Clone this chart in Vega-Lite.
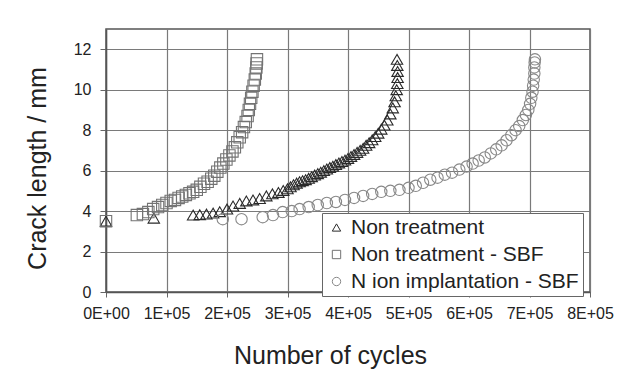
{
  "$schema": "https://vega.github.io/schema/vega-lite/v6.json",
  "width": 484,
  "height": 263,
  "autosize": {"type": "none"},
  "padding": {"left": 106, "top": 29, "right": 29, "bottom": 87},
  "background": "white",
  "config": {
    "font": "Liberation Sans",
    "view": {"stroke": "#555", "strokeWidth": 1.5},
    "axis": {
      "grid": true,
      "gridColor": "#7a7a7a",
      "gridWidth": 1.2,
      "domainColor": "#555",
      "domainWidth": 1.5,
      "tickColor": "#666",
      "tickSize": 6,
      "labelFont": "Liberation Sans",
      "labelFontSize": 16,
      "labelColor": "#222",
      "labelOverlap": false,
      "labelFlush": false,
      "titleFont": "Liberation Sans",
      "titleFontSize": 25,
      "titleFontWeight": "normal",
      "titleColor": "#222"
    },
    "legend": {
      "labelFont": "Liberation Sans"
    }
  },
  "data": {
    "values": [
      {"series": "Non treatment", "cycles": 0, "crack": 3.5},
      {"series": "Non treatment", "cycles": 79000, "crack": 3.65},
      {"series": "Non treatment", "cycles": 144000, "crack": 3.8},
      {"series": "Non treatment", "cycles": 155000, "crack": 3.82},
      {"series": "Non treatment", "cycles": 166000, "crack": 3.85},
      {"series": "Non treatment", "cycles": 177000, "crack": 3.9},
      {"series": "Non treatment", "cycles": 188000, "crack": 3.97},
      {"series": "Non treatment", "cycles": 200000, "crack": 4.1},
      {"series": "Non treatment", "cycles": 210000, "crack": 4.25},
      {"series": "Non treatment", "cycles": 221000, "crack": 4.38},
      {"series": "Non treatment", "cycles": 232000, "crack": 4.5},
      {"series": "Non treatment", "cycles": 243000, "crack": 4.55},
      {"series": "Non treatment", "cycles": 254000, "crack": 4.62},
      {"series": "Non treatment", "cycles": 265000, "crack": 4.75},
      {"series": "Non treatment", "cycles": 275000, "crack": 4.85},
      {"series": "Non treatment", "cycles": 285000, "crack": 4.92},
      {"series": "Non treatment", "cycles": 293000, "crack": 5.02},
      {"series": "Non treatment", "cycles": 300000, "crack": 5.1},
      {"series": "Non treatment", "cycles": 305000, "crack": 5.2},
      {"series": "Non treatment", "cycles": 310000, "crack": 5.3},
      {"series": "Non treatment", "cycles": 315000, "crack": 5.38},
      {"series": "Non treatment", "cycles": 320000, "crack": 5.45},
      {"series": "Non treatment", "cycles": 325000, "crack": 5.5},
      {"series": "Non treatment", "cycles": 330000, "crack": 5.55},
      {"series": "Non treatment", "cycles": 335000, "crack": 5.62},
      {"series": "Non treatment", "cycles": 340000, "crack": 5.7},
      {"series": "Non treatment", "cycles": 345000, "crack": 5.78},
      {"series": "Non treatment", "cycles": 350000, "crack": 5.85},
      {"series": "Non treatment", "cycles": 355000, "crack": 5.92},
      {"series": "Non treatment", "cycles": 360000, "crack": 6.0},
      {"series": "Non treatment", "cycles": 365000, "crack": 6.08},
      {"series": "Non treatment", "cycles": 370000, "crack": 6.15},
      {"series": "Non treatment", "cycles": 375000, "crack": 6.22},
      {"series": "Non treatment", "cycles": 380000, "crack": 6.3},
      {"series": "Non treatment", "cycles": 385000, "crack": 6.38},
      {"series": "Non treatment", "cycles": 390000, "crack": 6.45},
      {"series": "Non treatment", "cycles": 395000, "crack": 6.52},
      {"series": "Non treatment", "cycles": 400000, "crack": 6.6},
      {"series": "Non treatment", "cycles": 405000, "crack": 6.7},
      {"series": "Non treatment", "cycles": 410000, "crack": 6.8},
      {"series": "Non treatment", "cycles": 415000, "crack": 6.9},
      {"series": "Non treatment", "cycles": 420000, "crack": 7.0},
      {"series": "Non treatment", "cycles": 425000, "crack": 7.1},
      {"series": "Non treatment", "cycles": 430000, "crack": 7.25},
      {"series": "Non treatment", "cycles": 435000, "crack": 7.38},
      {"series": "Non treatment", "cycles": 440000, "crack": 7.52},
      {"series": "Non treatment", "cycles": 445000, "crack": 7.68},
      {"series": "Non treatment", "cycles": 450000, "crack": 7.85},
      {"series": "Non treatment", "cycles": 455000, "crack": 8.05},
      {"series": "Non treatment", "cycles": 460000, "crack": 8.25},
      {"series": "Non treatment", "cycles": 465000, "crack": 8.5},
      {"series": "Non treatment", "cycles": 470000, "crack": 8.8},
      {"series": "Non treatment", "cycles": 474000, "crack": 9.1},
      {"series": "Non treatment", "cycles": 477000, "crack": 9.4},
      {"series": "Non treatment", "cycles": 479000, "crack": 9.7},
      {"series": "Non treatment", "cycles": 480500, "crack": 10.0},
      {"series": "Non treatment", "cycles": 481500, "crack": 10.3},
      {"series": "Non treatment", "cycles": 482000, "crack": 10.6},
      {"series": "Non treatment", "cycles": 482000, "crack": 10.9},
      {"series": "Non treatment", "cycles": 481500, "crack": 11.2},
      {"series": "Non treatment", "cycles": 481000, "crack": 11.5},
      {"series": "Non treatment - SBF", "cycles": 0, "crack": 3.5},
      {"series": "Non treatment - SBF", "cycles": 51000, "crack": 3.8},
      {"series": "Non treatment - SBF", "cycles": 61000, "crack": 3.85},
      {"series": "Non treatment - SBF", "cycles": 70000, "crack": 3.95},
      {"series": "Non treatment - SBF", "cycles": 78000, "crack": 4.1},
      {"series": "Non treatment - SBF", "cycles": 86000, "crack": 4.2},
      {"series": "Non treatment - SBF", "cycles": 93000, "crack": 4.3},
      {"series": "Non treatment - SBF", "cycles": 100000, "crack": 4.4},
      {"series": "Non treatment - SBF", "cycles": 107000, "crack": 4.5},
      {"series": "Non treatment - SBF", "cycles": 114000, "crack": 4.55},
      {"series": "Non treatment - SBF", "cycles": 120000, "crack": 4.65},
      {"series": "Non treatment - SBF", "cycles": 126000, "crack": 4.72},
      {"series": "Non treatment - SBF", "cycles": 132000, "crack": 4.8},
      {"series": "Non treatment - SBF", "cycles": 138000, "crack": 4.88},
      {"series": "Non treatment - SBF", "cycles": 144000, "crack": 4.95},
      {"series": "Non treatment - SBF", "cycles": 150000, "crack": 5.05},
      {"series": "Non treatment - SBF", "cycles": 156000, "crack": 5.2},
      {"series": "Non treatment - SBF", "cycles": 162000, "crack": 5.35},
      {"series": "Non treatment - SBF", "cycles": 168000, "crack": 5.45},
      {"series": "Non treatment - SBF", "cycles": 174000, "crack": 5.6},
      {"series": "Non treatment - SBF", "cycles": 179000, "crack": 5.75},
      {"series": "Non treatment - SBF", "cycles": 184000, "crack": 5.95},
      {"series": "Non treatment - SBF", "cycles": 189000, "crack": 6.15},
      {"series": "Non treatment - SBF", "cycles": 194000, "crack": 6.35},
      {"series": "Non treatment - SBF", "cycles": 199000, "crack": 6.55},
      {"series": "Non treatment - SBF", "cycles": 204000, "crack": 6.75},
      {"series": "Non treatment - SBF", "cycles": 209000, "crack": 6.95},
      {"series": "Non treatment - SBF", "cycles": 213000, "crack": 7.15},
      {"series": "Non treatment - SBF", "cycles": 217000, "crack": 7.4},
      {"series": "Non treatment - SBF", "cycles": 221000, "crack": 7.65},
      {"series": "Non treatment - SBF", "cycles": 225000, "crack": 7.9},
      {"series": "Non treatment - SBF", "cycles": 228000, "crack": 8.15},
      {"series": "Non treatment - SBF", "cycles": 231000, "crack": 8.4},
      {"series": "Non treatment - SBF", "cycles": 234000, "crack": 8.7},
      {"series": "Non treatment - SBF", "cycles": 236000, "crack": 9.0},
      {"series": "Non treatment - SBF", "cycles": 238000, "crack": 9.3},
      {"series": "Non treatment - SBF", "cycles": 240000, "crack": 9.6},
      {"series": "Non treatment - SBF", "cycles": 242000, "crack": 9.9},
      {"series": "Non treatment - SBF", "cycles": 244000, "crack": 10.2},
      {"series": "Non treatment - SBF", "cycles": 246000, "crack": 10.5},
      {"series": "Non treatment - SBF", "cycles": 247500, "crack": 10.8},
      {"series": "Non treatment - SBF", "cycles": 248500, "crack": 11.1},
      {"series": "Non treatment - SBF", "cycles": 249000, "crack": 11.3},
      {"series": "Non treatment - SBF", "cycles": 249500, "crack": 11.5},
      {"series": "N ion implantation - SBF", "cycles": 193000, "crack": 3.6},
      {"series": "N ion implantation - SBF", "cycles": 224000, "crack": 3.6},
      {"series": "N ion implantation - SBF", "cycles": 259000, "crack": 3.7},
      {"series": "N ion implantation - SBF", "cycles": 276000, "crack": 3.8},
      {"series": "N ion implantation - SBF", "cycles": 292000, "crack": 3.95},
      {"series": "N ion implantation - SBF", "cycles": 307000, "crack": 4.0},
      {"series": "N ion implantation - SBF", "cycles": 320000, "crack": 4.1},
      {"series": "N ion implantation - SBF", "cycles": 335000, "crack": 4.2},
      {"series": "N ion implantation - SBF", "cycles": 350000, "crack": 4.3},
      {"series": "N ion implantation - SBF", "cycles": 365000, "crack": 4.4},
      {"series": "N ion implantation - SBF", "cycles": 380000, "crack": 4.45},
      {"series": "N ion implantation - SBF", "cycles": 395000, "crack": 4.55},
      {"series": "N ion implantation - SBF", "cycles": 410000, "crack": 4.65},
      {"series": "N ion implantation - SBF", "cycles": 425000, "crack": 4.75},
      {"series": "N ion implantation - SBF", "cycles": 440000, "crack": 4.85},
      {"series": "N ion implantation - SBF", "cycles": 455000, "crack": 4.95},
      {"series": "N ion implantation - SBF", "cycles": 470000, "crack": 5.0},
      {"series": "N ion implantation - SBF", "cycles": 485000, "crack": 5.05},
      {"series": "N ion implantation - SBF", "cycles": 500000, "crack": 5.15},
      {"series": "N ion implantation - SBF", "cycles": 512000, "crack": 5.25},
      {"series": "N ion implantation - SBF", "cycles": 524000, "crack": 5.4},
      {"series": "N ion implantation - SBF", "cycles": 536000, "crack": 5.55},
      {"series": "N ion implantation - SBF", "cycles": 548000, "crack": 5.65},
      {"series": "N ion implantation - SBF", "cycles": 560000, "crack": 5.8},
      {"series": "N ion implantation - SBF", "cycles": 572000, "crack": 5.9},
      {"series": "N ion implantation - SBF", "cycles": 584000, "crack": 6.05},
      {"series": "N ion implantation - SBF", "cycles": 596000, "crack": 6.2},
      {"series": "N ion implantation - SBF", "cycles": 606000, "crack": 6.35},
      {"series": "N ion implantation - SBF", "cycles": 616000, "crack": 6.5},
      {"series": "N ion implantation - SBF", "cycles": 626000, "crack": 6.65},
      {"series": "N ion implantation - SBF", "cycles": 636000, "crack": 6.85},
      {"series": "N ion implantation - SBF", "cycles": 645000, "crack": 7.05},
      {"series": "N ion implantation - SBF", "cycles": 654000, "crack": 7.25},
      {"series": "N ion implantation - SBF", "cycles": 662000, "crack": 7.5},
      {"series": "N ion implantation - SBF", "cycles": 670000, "crack": 7.75},
      {"series": "N ion implantation - SBF", "cycles": 677000, "crack": 8.0},
      {"series": "N ion implantation - SBF", "cycles": 683000, "crack": 8.2},
      {"series": "N ion implantation - SBF", "cycles": 689000, "crack": 8.5},
      {"series": "N ion implantation - SBF", "cycles": 694000, "crack": 8.75},
      {"series": "N ion implantation - SBF", "cycles": 698000, "crack": 9.0},
      {"series": "N ion implantation - SBF", "cycles": 701000, "crack": 9.3},
      {"series": "N ion implantation - SBF", "cycles": 703000, "crack": 9.6},
      {"series": "N ion implantation - SBF", "cycles": 705000, "crack": 9.9},
      {"series": "N ion implantation - SBF", "cycles": 706000, "crack": 10.2},
      {"series": "N ion implantation - SBF", "cycles": 707000, "crack": 10.5},
      {"series": "N ion implantation - SBF", "cycles": 708000, "crack": 10.8},
      {"series": "N ion implantation - SBF", "cycles": 708000, "crack": 11.1},
      {"series": "N ion implantation - SBF", "cycles": 708500, "crack": 11.35},
      {"series": "N ion implantation - SBF", "cycles": 709000, "crack": 11.5}
    ]
  },
  "mark": {"type": "point", "filled": false, "size": 130, "strokeWidth": 1.1, "opacity": 1},
  "encoding": {
    "x": {
      "field": "cycles",
      "type": "quantitative",
      "scale": {"domain": [0, 800000], "nice": false},
      "axis": {
        "values": [0, 100000, 200000, 300000, 400000, 500000, 600000, 700000, 800000],
        "labelExpr": "datum.value == 0 ? '0E+00' : (datum.value / 100000) + 'E+05'",
        "labelPadding": 8,
        "labelFlush": false,
        "tickSize": 5,
        "title": "Number of cycles",
        "titleX": 224,
        "titleY": 71,
        "titleBaseline": "alphabetic",
        "titleAlign": "center"
      }
    },
    "y": {
      "field": "crack",
      "type": "quantitative",
      "scale": {"domain": [0, 13], "nice": false},
      "axis": {
        "values": [0, 2, 4, 6, 8, 10, 12],
        "labelPadding": 9,
        "tickSize": 6,
        "title": "Crack length / mm",
        "titleX": -61,
        "titleY": 139,
        "titleAngle": -90,
        "titleBaseline": "alphabetic",
        "titleAlign": "center"
      }
    },
    "shape": {
      "field": "series",
      "type": "nominal",
      "sort": ["Non treatment", "Non treatment - SBF", "N ion implantation - SBF"],
      "scale": {
        "domain": ["Non treatment", "Non treatment - SBF", "N ion implantation - SBF"],
        "range": ["triangle-up", "square", "circle"]
      }
    },
    "color": {
      "field": "series",
      "type": "nominal",
      "sort": ["Non treatment", "Non treatment - SBF", "N ion implantation - SBF"],
      "scale": {
        "domain": ["Non treatment", "Non treatment - SBF", "N ion implantation - SBF"],
        "range": ["#2a2a2a", "#737373", "#888888"]
      },
      "legend": {
        "title": null,
        "orient": "none",
        "legendX": 216,
        "legendY": 184,
        "labelFont": "Liberation Sans",
        "labelFontSize": 21,
        "labelColor": "#222",
        "labelLimit": 400,
        "labelOffset": 4,
        "symbolSize": 70,
        "symbolStrokeWidth": 1,
        "rowPadding": 5,
        "padding": 4,
        "strokeColor": "#666",
        "fillColor": "white"
      }
    }
  }
}
